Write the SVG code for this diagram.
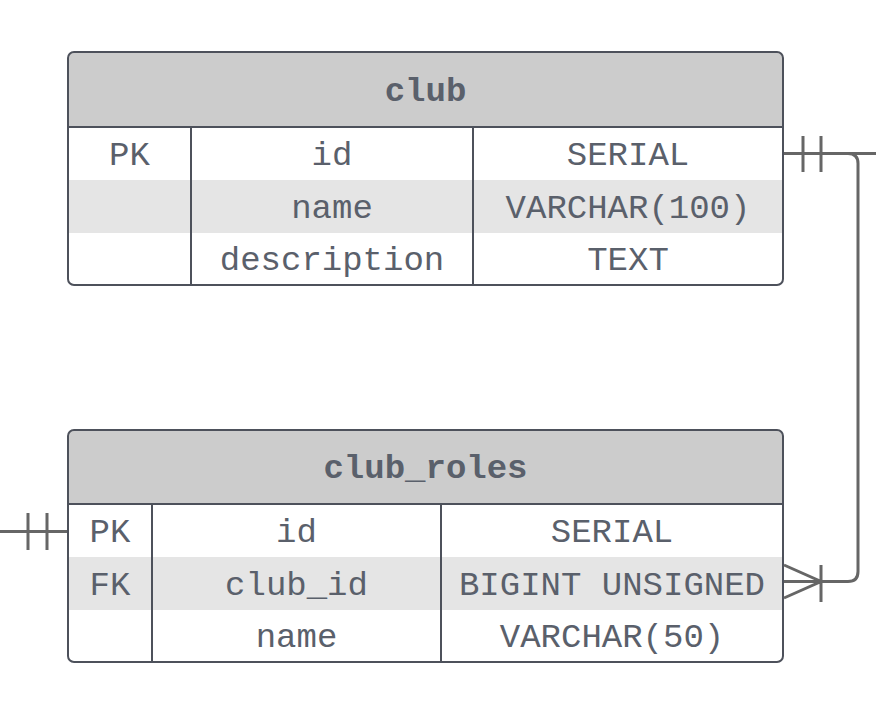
<svg xmlns="http://www.w3.org/2000/svg" width="876" height="717" viewBox="0 0 876 717">
<style>
.frame{fill:none;stroke:#4d515b;stroke-width:2}
.hdr{fill:#cccccc}
.alt{fill:#e5e5e5}
.div{stroke:#4d515b;stroke-width:2}
.t{font-family:"Liberation Mono","DejaVu Sans Mono",monospace;font-size:34px;fill:#5a606b;text-anchor:middle}
.h{font-weight:bold}
.c{fill:none;stroke:#666666;stroke-width:3}
</style>
<rect width="876" height="717" fill="#ffffff"/>
<g id="club">
<path class="hdr" d="M68,127 V58 Q68,52 74,52 H777 Q783,52 783,58 V127 Z"/>
<rect class="alt" x="69" y="180" width="713" height="53"/>
<rect class="frame" x="68" y="52" width="715" height="233" rx="6"/>
<line class="div" x1="68" y1="127" x2="783" y2="127"/>
<line class="div" x1="191" y1="127" x2="191" y2="285"/>
<line class="div" x1="473" y1="127" x2="473" y2="285"/>
<text class="t h" x="425.5" y="101">club</text>
<text class="t" x="129.5" y="165">PK</text>
<text class="t" x="332" y="165">id</text>
<text class="t" x="628" y="165">SERIAL</text>
<text class="t" x="332" y="218">name</text>
<text class="t" x="628" y="218">VARCHAR(100)</text>
<text class="t" x="332" y="270">description</text>
<text class="t" x="628" y="270">TEXT</text>
</g>
<g id="club_roles">
<path class="hdr" d="M68,504 V436 Q68,430 74,430 H777 Q783,430 783,436 V504 Z"/>
<rect class="alt" x="69" y="557" width="713" height="53"/>
<rect class="frame" x="68" y="430" width="715" height="232" rx="6"/>
<line class="div" x1="68" y1="504" x2="783" y2="504"/>
<line class="div" x1="152" y1="504" x2="152" y2="662"/>
<line class="div" x1="441" y1="504" x2="441" y2="662"/>
<text class="t h" x="425.5" y="478">club_roles</text>
<text class="t" x="110" y="542">PK</text>
<text class="t" x="296.5" y="542">id</text>
<text class="t" x="612" y="542">SERIAL</text>
<text class="t" x="110" y="595">FK</text>
<text class="t" x="296.5" y="595">club_id</text>
<text class="t" x="612" y="595">BIGINT UNSIGNED</text>
<text class="t" x="296.5" y="647">name</text>
<text class="t" x="612" y="647">VARCHAR(50)</text>
</g>
<g id="connectors">
<path class="c" d="M784,153.5 H876"/>
<path class="c" d="M803,136 V172 M821,136 V172"/>
<path class="c" d="M784,153.5 H848 Q858,153.5 858,163.5 V571.5 Q858,581.5 848,581.5 H784"/>
<path class="c" d="M784,565 L821,581.5 L784,598 M821,565 V602"/>
<path class="c" d="M0,531.5 H67"/>
<path class="c" d="M28,513 V550 M47,513 V550"/>
</g>
</svg>
